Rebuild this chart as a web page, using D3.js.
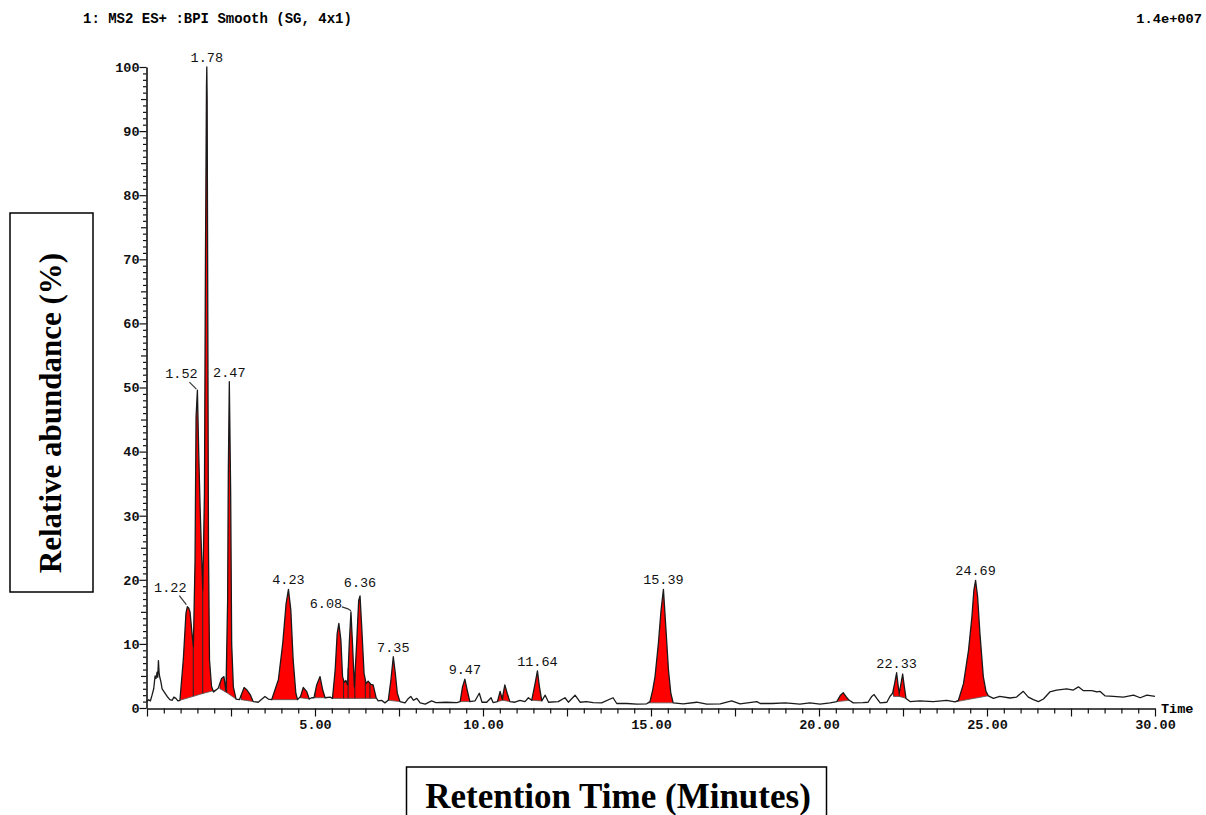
<!DOCTYPE html>
<html>
<head>
<meta charset="utf-8">
<script src="https://cdn.jsdelivr.net/npm/d3@7"></script>
<style>
  body { margin: 0; background: #fff; }
  svg { display: block; }
  .mono { font-family: "Liberation Mono", "DejaVu Sans Mono", monospace; }
  .serif { font-family: "Liberation Serif", "Times New Roman", serif; font-weight: bold; }
</style>
</head>
<body>
<div id="chart"></div>
<script>
// Chromatogram trace: retention time (min) and relative abundance (%)
const rt = [
  0.00, 0.05, 0.10, 0.15, 0.20, 0.24, 0.27, 0.30, 0.32, 0.34, 0.36, 0.38, 0.41, 0.45, 0.50, 0.55, 0.60, 0.68, 0.75, 0.80, 0.86, 0.92,
  0.98, 1.08, 1.16, 1.20, 1.24, 1.28, 1.35, 1.38, 1.43, 1.46, 1.50, 1.54, 1.58, 1.63, 1.66, 1.71, 1.74, 1.77, 1.78, 1.79, 1.81, 1.83,
  1.86, 1.92, 1.98, 2.12, 2.22, 2.29, 2.35, 2.40, 2.42, 2.45, 2.49, 2.52, 2.57, 2.65, 2.75, 2.89, 2.96, 3.07, 3.16, 3.31, 3.51, 3.61,
  3.71, 3.91, 4.04, 4.14, 4.21, 4.28, 4.35, 4.43, 4.48, 4.57, 4.65, 4.75, 4.83, 4.90, 4.97, 5.05, 5.15, 5.23, 5.30, 5.45, 5.52, 5.60,
  5.66, 5.71, 5.77, 5.82, 5.87, 5.92, 5.97, 6.02, 6.07, 6.12, 6.17, 6.24, 6.30, 6.34, 6.39, 6.46, 6.52, 6.58, 6.66, 6.73, 6.82, 6.88,
  6.98, 7.08, 7.18, 7.26, 7.33, 7.39, 7.45, 7.53, 7.68, 7.78, 7.85, 7.93, 8.03, 8.13, 8.28, 8.47, 8.60, 8.90, 9.22, 9.32, 9.39, 9.46,
  9.53, 9.61, 9.76, 9.89, 9.97, 10.11, 10.24, 10.30, 10.43, 10.51, 10.57, 10.65, 10.72, 10.80, 10.95, 11.10, 11.25, 11.35, 11.45,
  11.55, 11.62, 11.68, 11.75, 11.85, 11.95, 12.24, 12.44, 12.54, 12.74, 12.89, 13.08, 13.28, 13.53, 13.87, 13.98, 14.28, 14.58, 14.87,
  14.97, 15.05, 15.12, 15.22, 15.30, 15.37, 15.44, 15.52, 15.59, 15.66, 15.96, 16.36, 16.66, 17.06, 17.40, 17.65, 18.15, 18.25, 18.60,
  19.00, 19.43, 19.73, 20.03, 20.33, 20.53, 20.64, 20.72, 20.80, 20.90, 21.02, 21.31, 21.46, 21.57, 21.64, 21.72, 21.82, 22.02, 22.11,
  22.19, 22.25, 22.31, 22.36, 22.39, 22.44, 22.49, 22.54, 22.59, 22.71, 23.00, 23.40, 23.80, 24.05, 24.15, 24.30, 24.45, 24.55, 24.61,
  24.66, 24.72, 24.79, 24.89, 24.97, 25.04, 25.19, 25.38, 25.68, 25.88, 26.08, 26.23, 26.38, 26.53, 26.68, 26.87, 27.07, 27.37, 27.57,
  27.72, 27.87, 28.12, 28.27, 28.36, 28.51, 28.76, 29.06, 29.36, 29.56, 29.76, 30.00
];
const abundance = [
  1.0, 1.3, 1.1, 2.0, 3.0, 5.0, 4.6, 5.6, 4.8, 7.4, 5.5, 4.8, 4.2, 3.0, 2.6, 2.2, 1.8, 1.3, 1.2, 1.7, 1.5, 1.1,
  1.2, 7.5, 14.8, 15.8, 15.6, 15.0, 11.1, 9.6, 23.0, 45.4, 49.6, 39.7, 31.4, 23.0, 18.4, 33.5, 70, 97, 100, 95, 60, 25,
  7.5, 3.4, 2.5, 3.1, 4.6, 4.9, 2.6, 16.8, 36.6, 50.9, 33.5, 10.0, 3.3, 1.4, 1.3, 3.2, 2.9, 2.1, 1.0, 0.9, 1.8, 1.4,
  1.3, 4.4, 10.1, 16.3, 18.5, 15.3, 7.5, 2.3, 1.3, 1.8, 3.2, 2.6, 1.4, 1.6, 1.6, 3.6, 4.9, 2.8, 1.6, 1.7, 1.5, 5.9,
  11.6, 13.2, 10.6, 4.9, 4.0, 4.3, 3.6, 10.1, 15.0, 9.6, 3.3, 10.1, 16.8, 17.5, 12.7, 5.4, 3.8, 4.2, 3.7, 3.6, 1.6, 1.1,
  1.2, 0.8, 1.2, 4.4, 8.0, 5.4, 2.3, 1.0, 0.8, 1.5, 1.8, 1.2, 1.5, 0.8, 0.6, 1.1, 0.85, 0.9, 0.85, 1.0, 3.3, 4.5,
  2.8, 1.0, 1.1, 2.3, 0.9, 0.9, 1.6, 0.85, 1.0, 2.6, 1.4, 3.6, 2.3, 1.0, 0.9, 1.2, 1.0, 1.6, 1.2,
  3.8, 5.8, 3.3, 1.1, 2.0, 0.9, 1.0, 1.6, 0.9, 2.0, 0.9, 1.0, 0.85, 0.8, 1.6, 0.7, 0.7, 0.6, 0.65,
  1.0, 2.8, 4.9, 10.1, 15.3, 18.5, 12.7, 5.9, 2.3, 0.8, 0.65, 0.9, 0.6, 0.65, 1.1, 0.65, 1.0, 0.7, 0.7,
  0.8, 0.62, 0.8, 0.62, 0.8, 1.0, 2.0, 2.4, 1.8, 1.2, 0.8, 0.85, 0.9, 1.8, 2.1, 1.5, 0.8, 0.9, 1.8,
  2.3, 3.8, 5.5, 3.3, 2.3, 3.8, 5.3, 3.3, 1.5, 1.0, 1.1, 1.0, 1.2, 0.95, 1.2, 3.8, 9.0, 14.2, 18.4,
  19.9, 17.4, 11.6, 4.9, 2.6, 1.9, 1.5, 1.8, 1.56, 1.7, 2.6, 1.7, 1.3, 1.0, 1.4, 2.5, 2.8, 3.0, 2.8,
  3.3, 2.7, 2.7, 2.5, 2.6, 1.9, 1.8, 1.7, 2.0, 1.6, 2.0, 1.8
];

// Integrated peaks: window start/end (min) and baseline abundance at both ends
const peakStart = [0.98, 1.38, 1.66, 2.17, 2.37, 2.80, 3.71, 4.55, 5.00, 5.52, 5.85, 5.99, 6.19, 6.50, 6.64, 7.18, 9.32, 10.43, 10.59, 11.45, 14.92, 20.55, 22.22, 22.39, 24.10];
const peakEnd   = [1.38, 1.66, 2.05, 2.37, 2.65, 3.16, 4.48, 4.85, 5.33, 5.85, 5.99, 6.19, 6.50, 6.64, 6.82, 7.53, 9.61, 10.59, 10.80, 11.75, 15.66, 20.90, 22.39, 22.60, 25.04];
const baseStart = [1.2, 1.82, 2.26, 3.0, 2.4, 1.3, 1.3, 1.6, 1.6, 1.5, 1.5, 1.5, 1.5, 1.5, 1.5, 1.2, 1.0, 1.0, 1.2, 1.2, 0.8, 1.0, 1.8, 1.8, 1.0];
const baseEnd   = [1.82, 2.26, 2.8, 2.4, 1.4, 1.0, 1.3, 1.4, 1.6, 1.5, 1.5, 1.5, 1.5, 1.5, 1.5, 1.0, 1.0, 1.2, 1.0, 1.1, 0.8, 1.2, 1.8, 1.5, 1.9];

// Peak labels (apex retention times)
const labelText = ["1.22", "1.52", "1.78", "2.47", "4.23", "6.08", "6.36", "7.35", "9.47", "11.64", "15.39", "22.33", "24.69"];
const labelRT   = [1.20, 1.50, 1.78, 2.45, 4.21, 6.07, 6.34, 7.33, 9.46, 11.62, 15.37, 22.31, 24.66];

const yTicks = d3.range(0, 101, 1);
const xTicks = d3.range(0, 30.001, 0.5);

const width = 1206, height = 815;
const x = d3.scaleLinear().domain([0, 30]).range([147, 1155]);
const y = d3.scaleLinear().domain([0, 100]).range([708, 67]);

const svg = d3.select("#chart").append("svg")
  .attr("width", width)
  .attr("height", height);

// linear read of the trace at time t
function traceAt(t) {
  const i = d3.bisectLeft(rt, t);
  if (i <= 0) return abundance[0];
  if (i >= rt.length) return abundance[rt.length - 1];
  const t0 = rt[i - 1], t1 = rt[i];
  const f = (t - t0) / (t1 - t0);
  return abundance[i - 1] + f * (abundance[i] - abundance[i - 1]);
}

// header texts
svg.append("text").attr("class", "mono")
  .attr("x", 83).attr("y", 23)
  .attr("font-size", 14).attr("font-weight", "bold")
  .text("1: MS2 ES+ :BPI Smooth (SG, 4x1)");
svg.append("text").attr("class", "mono")
  .attr("x", 1202).attr("y", 23)
  .attr("text-anchor", "end")
  .attr("font-size", 13.7).attr("font-weight", "bold")
  .text("1.4e+007");

// filled peaks
const line = d3.line().x(d => x(d[0])).y(d => y(d[1]));
const peaks = peakStart.map((s, i) => ({ s, e: peakEnd[i], b0: baseStart[i], b1: baseEnd[i] }));

const fills = svg.append("g");
peaks.forEach(p => {
  const pts = [[p.s, traceAt(p.s)]];
  rt.forEach((t, i) => { if (t > p.s && t < p.e) pts.push([t, abundance[i]]); });
  pts.push([p.e, traceAt(p.e)]);
  pts.push([p.e, p.b1], [p.s, p.b0]);
  fills.append("path")
    .attr("d", line(pts) + "Z")
    .attr("fill", "#ff0000")
    .attr("stroke", "none");
  // baseline and drop lines
  fills.append("line")
    .attr("x1", x(p.s)).attr("y1", y(p.b0))
    .attr("x2", x(p.e)).attr("y2", y(p.b1))
    .attr("stroke", "#555").attr("stroke-width", 0.8);
  [[p.s, p.b0], [p.e, p.b1]].forEach(([t, b]) => {
    fills.append("line")
      .attr("x1", x(t)).attr("x2", x(t))
      .attr("y1", y(b)).attr("y2", y(traceAt(t)))
      .attr("stroke", "#222").attr("stroke-width", 0.8);
  });
});

// trace
svg.append("path")
  .datum(rt.map((t, i) => [t, abundance[i]]))
  .attr("d", line)
  .attr("fill", "none")
  .attr("stroke", "#1a1a1a")
  .attr("stroke-width", 1.3)
  .attr("stroke-linejoin", "round");

// y axis
const yAxis = svg.append("g")
  .attr("transform", "translate(146.5,0)")
  .call(d3.axisLeft(y)
    .tickValues(yTicks)
    .tickSize(4)
    .tickSizeOuter(0)
    .tickPadding(3)
    .tickFormat(d => d % 10 === 0 ? d : ""));
yAxis.selectAll(".tick line")
  .attr("x2", d => d % 10 === 0 ? -7 : d % 5 === 0 ? -5.5 : -3.5);
yAxis.selectAll(".tick text")
  .attr("class", "mono").attr("font-size", 13.5).attr("font-weight", "bold").attr("fill", "#111");

// x axis
const xAxis = svg.append("g")
  .attr("transform", "translate(0,708.5)")
  .call(d3.axisBottom(x)
    .tickValues(xTicks)
    .tickSize(5)
    .tickSizeOuter(0)
    .tickFormat(d => d % 5 === 0 && d > 0 ? d3.format(".2f")(d) : ""));
xAxis.selectAll(".tick line")
  .attr("y2", d => d % 2.5 === 0 ? 8 : 5);
xAxis.selectAll(".tick text")
  .attr("class", "mono").attr("font-size", 13.5).attr("font-weight", "bold").attr("fill", "#111")
  .attr("y", 20).attr("dy", 0);

svg.selectAll(".domain").attr("stroke", "#111").attr("stroke-width", 1.6);
svg.selectAll(".tick line").attr("stroke", "#111").attr("stroke-width", 1.2);

svg.append("text").attr("class", "mono")
  .attr("x", 1161).attr("y", 713)
  .attr("font-size", 13.5).attr("font-weight", "bold")
  .text("Time");

// peak labels; a few sit to the left with a leader line to the apex
const leader = {
  "1.22": { dx: -17, dy: -15, path: [[-8, -11], [-1, -2]] },
  "1.52": { dx: -16, dy: -12, path: [[-8, -8], [-1, -1]] },
  "6.08": { dx: -25, dy: -4, path: [[-9, -5], [-3, -3], [0, -1]] }
};
const labels = svg.append("g");
labelText.forEach((txt, i) => {
  const px = x(labelRT[i]);
  const py = y(traceAt(labelRT[i]));
  const l = leader[txt];
  const lift = txt === "6.36" ? -9 : -5;
  labels.append("text").attr("class", "mono")
    .attr("x", l ? px + l.dx : px)
    .attr("y", l ? py + l.dy : py + lift)
    .attr("text-anchor", "middle").attr("font-size", 13.5).attr("fill", "#111")
    .text(txt);
  if (l) {
    labels.append("polyline")
      .attr("points", l.path.map(([a, b]) => [px + a, py + b]).join(" "))
      .attr("fill", "none").attr("stroke", "#333").attr("stroke-width", 1.2);
  }
});

// axis titles in boxes
svg.append("rect")
  .attr("x", 10).attr("y", 213).attr("width", 83).attr("height", 379)
  .attr("fill", "none").attr("stroke", "#000").attr("stroke-width", 1.5);
svg.append("text").attr("class", "serif")
  .attr("transform", "translate(61,413) rotate(-90)")
  .attr("text-anchor", "middle").attr("font-size", 31)
  .text("Relative abundance (%)");

svg.append("rect")
  .attr("x", 406.5).attr("y", 767).attr("width", 420).attr("height", 70)
  .attr("fill", "none").attr("stroke", "#000").attr("stroke-width", 1.5);
svg.append("text").attr("class", "serif")
  .attr("x", 618).attr("y", 808)
  .attr("text-anchor", "middle").attr("font-size", 35)
  .text("Retention Time (Minutes)");
</script>
</body>
</html>
